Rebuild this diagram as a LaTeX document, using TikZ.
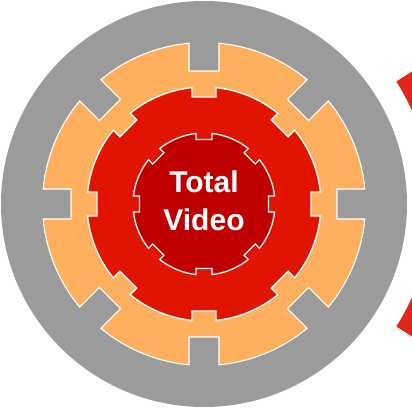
\documentclass[tikz,border=0pt]{standalone}
\usepackage{fontspec}
\setmainfont{Liberation Sans}
\definecolor{ringgray}{RGB}{155,155,155}
\definecolor{ringorange}{RGB}{255,176,94}
\definecolor{ringred}{RGB}{224,20,0}
\definecolor{coredark}{RGB}{192,0,0}
\definecolor{bandred}{RGB}{226,38,26}
\newcommand\gearpath[4]{%
  \pgfmathsetmacro\gR{#1}%
  \pgfmathsetmacro\ao{asin(#2/#1)}%
  \pgfmathsetmacro\bi{atan(#2/#3)}%
  \pgfmathsetmacro\ri{veclen(#3,#2)}%
  \path[#4] (-\ao:\gR pt) \foreach \k in {0,...,7}{ -- ({45*\k-\bi}:\ri pt) -- ({45*\k+\bi}:\ri pt) -- ({45*\k+\ao}:\gR pt) arc[start angle={45*\k+\ao}, end angle={45*\k+45-\ao}, radius=\gR pt] } -- cycle;
}
\tikzset{
  gearline/.style={draw=white, line width=#1, line join=miter},
  label/.style={text=white, font=\bfseries\fontsize{30}{36}\selectfont, inner sep=0pt}
}
\begin{document}
\begin{tikzpicture}[x=1pt,y=1pt]
\useasboundingbox (-204,-204) rectangle (208,204);
\clip (-204,-204) rectangle (208,204);
% outer red band (partially visible at right)
\fill[bandred] (-32.5:228pt) arc[start angle=-32.5, end angle=32.5, radius=228pt] -- (32.5:330pt) arc[start angle=32.5, end angle=-32.5, radius=330pt] -- cycle;
% gray disc
\fill[ringgray] (0,0) circle[radius=203pt];
% orange gear
\gearpath{161.5}{15}{133}{fill=ringorange, gearline=1.1pt}
% red gear
\gearpath{117}{12}{107}{fill=ringred, gearline=1.4pt}
% inner dark core
\gearpath{71}{8}{64.5}{fill=coredark, gearline=1.3pt}
\node[label, anchor=base] (total) at (0,11.3) {Total};
\node[label, anchor=base] (video) at (0,-26.7) {Video};
\end{tikzpicture}
\end{document}
